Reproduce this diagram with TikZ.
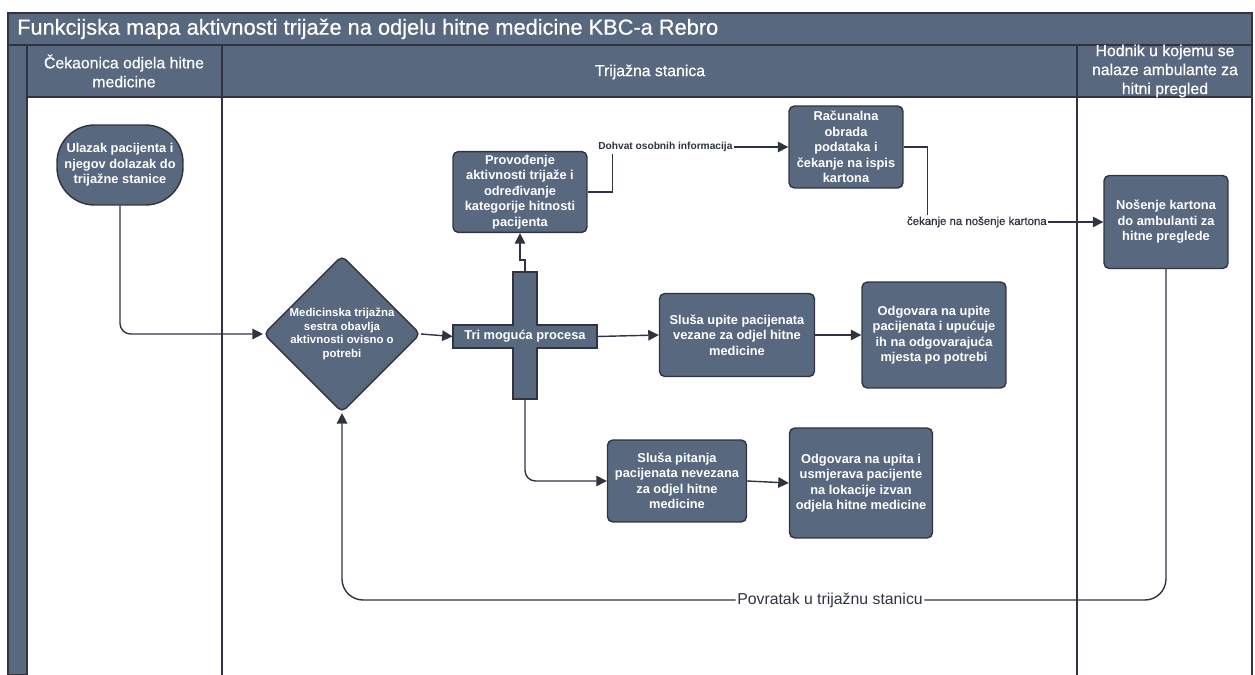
\documentclass[tikz,border=0pt]{standalone}
\usepackage{fontspec}
\setmainfont{Liberation Sans}
\newfontfamily\headfont[FakeBold=0.6]{Liberation Sans}
\usetikzlibrary{shapes.geometric,arrows.meta}

\definecolor{slate}{HTML}{58687F}
\definecolor{ink}{HTML}{2F3440}

\tikzset{
  box/.style={draw=ink, fill=slate, thick, rounded corners=3pt, text=white, align=center,
    font=\bfseries\fontsize{7.3}{8.8}\selectfont, inner sep=2pt},
  flow/.style={draw=ink, thick, -{Triangle[length=6pt,width=6pt]}},
  lane/.style={draw=ink, fill=slate, thick},
  lanetext/.style={text=white, align=center, font=\headfont\fontsize{9}{10.8}\selectfont},
  flowtext/.style={fill=white, inner sep=1pt, text=ink}
}

\begin{document}
\begin{tikzpicture}[x=0.02cm, y=-0.02cm]
\useasboundingbox (0,0) rectangle (1255,675);

% lanes
\draw[lane] (8,13) rectangle (1252,45);
\node[text=white, anchor=west, font=\headfont\fontsize{12.4}{14}\selectfont] (title) at (11,29)
  {Funkcijska mapa aktivnosti trijaže na odjelu hitne medicine KBC-a Rebro};
\draw[lane] (8,45) rectangle (27,675);
\draw[lane] (27,45) rectangle (222,97);
\draw[lane] (222,45) rectangle (1077,97);
\draw[lane] (1077,45) rectangle (1252,97);
\node[lanetext] (lane1) at (124,71) {Čekaonica odjela hitne\\medicine};
\node[lanetext] (lane2) at (650,72) {Trijažna stanica};
\node[lanetext] (lane3) at (1165,71) {Hodnik u kojemu se\\nalaze ambulante za\\hitni pregled};
\draw[ink, thick] (222,97) -- (222,675);
\draw[ink, thick] (1077,97) -- (1077,675);
\draw[ink, thick] (1252,45) -- (1252,675);

% nodes
\node[box, rounded corners=0.75cm, minimum width=2.52cm, minimum height=1.6cm] (start) at (120,165)
  {Ulazak pacijenta i\\njegov dolazak do\\trijažne stanice};
\node[box, diamond, minimum width=3.04cm, minimum height=3cm, inner sep=0pt,
  font=\bfseries\fontsize{6.5}{7.8}\selectfont] (dia) at (342,334)
  {Medicinska trijažna\\sestra obavlja\\aktivnosti ovisno o\\potrebi};

\draw[draw=ink, fill=slate, thick] (513,272) -- (537,272) -- (537,325) -- (597,325) -- (597,348)
  -- (537,348) -- (537,399) -- (513,399) -- (513,348) -- (453,348) -- (453,325) -- (513,325) -- cycle;
\node[text=white, font=\bfseries\fontsize{7.3}{8.8}\selectfont, minimum width=2.88cm,
  minimum height=0.46cm, inner sep=0pt] (tri) at (525,336.5) {Tri moguća procesa};
\coordinate (crosstop) at (525,272);
\coordinate (crossbot) at (525,399);

\node[box, minimum width=2.68cm, minimum height=1.6cm] (prov) at (520,192)
  {Provođenje\\aktivnosti trijaže i\\određivanje\\kategorije hitnosti\\pacijenta};
\node[box, minimum width=2.28cm, minimum height=1.64cm] (rac) at (846,147)
  {Računalna\\obrada\\podataka i\\čekanje na ispis\\kartona};
\node[box, minimum width=3.1cm, minimum height=1.66cm] (slu1) at (737,335)
  {Sluša upite pacijenata\\vezane za odjel hitne\\medicine};
\node[box, minimum width=2.88cm, minimum height=2.12cm] (odg1) at (934,335)
  {Odgovara na upite\\pacijenata i upućuje\\ih na odgovarajuća\\mjesta po potrebi};
\node[box, minimum width=2.78cm, minimum height=1.64cm] (slu2) at (677,481)
  {Sluša pitanja\\pacijenata nevezana\\za odjel hitne\\medicine};
\node[box, minimum width=2.86cm, minimum height=2.2cm] (odg2) at (861,483)
  {Odgovara na upita i\\usmjerava pacijente\\na lokacije izvan\\odjela hitne medicine};
\node[box, minimum width=2.48cm, minimum height=1.86cm] (nos) at (1166,222)
  {Nošenje kartona\\do ambulanti za\\hitne preglede};

% connectors
\draw[flow, rounded corners=6pt] (start.south) |- (dia.west);
\draw[flow] (dia.east) -- (tri.west);
\draw[flow] (crosstop) -- ++(0,-12) -| (prov.south);
\draw[flow] (prov.east) -- ++(25,0) |- node[pos=0.65, flowtext, font=\bfseries\fontsize{5.8}{7}\selectfont]
  {Dohvat osobnih informacija} (rac.west);
\draw[flow] (rac.east) -- ++(24,0) |- node[pos=0.64, flowtext, font=\headfont\fontsize{6.5}{8}\selectfont]
  {čekanje na nošenje kartona} (nos.west);
\draw[flow] (tri.east) -- (slu1.west);
\draw[flow] (slu1.east) -- (odg1.west);
\draw[flow, rounded corners=6pt] (crossbot) |- (slu2.west);
\draw[flow] (slu2.east) -- (odg2.west);
\coordinate (povr) at (830,600);
\draw[flow, rounded corners=12pt] (nos.south) |- (povr) node[flowtext, font=\fontsize{9}{11}\selectfont]
  {Povratak u trijažnu stanicu} -| (dia.south);
\end{tikzpicture}
\end{document}
